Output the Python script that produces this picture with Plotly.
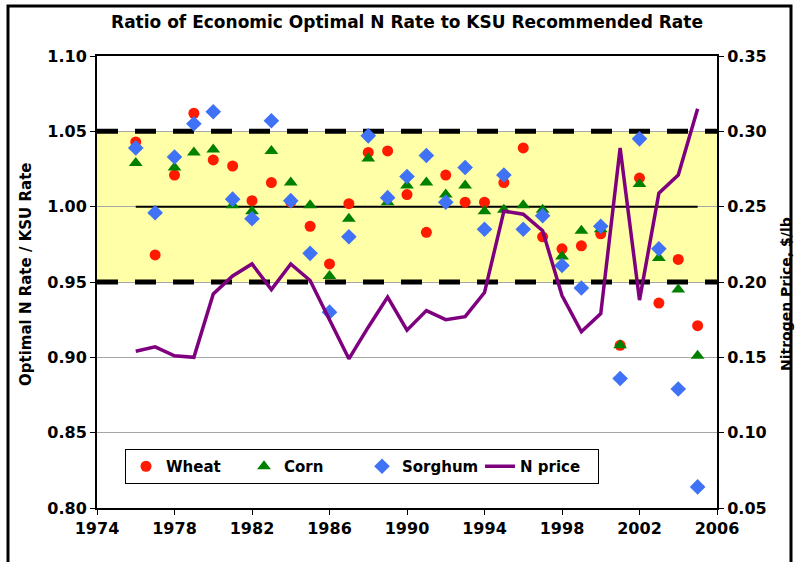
import plotly.graph_objects as go

years = list(range(1976, 2006))

wheat = [1.043, 0.968, 1.021, 1.062, 1.031, 1.027, 1.004, 1.016, 1.003, 0.987,
         0.962, 1.002, 1.036, 1.037, 1.008, 0.983, 1.021, 1.003, 1.003, 1.016,
         1.039, 0.980, 0.972, 0.974, 0.982, 0.908, 1.019, 0.936, 0.965, 0.921]

corn = [1.029, 0.997, 1.026, 1.036, 1.038, 1.001, 0.997, 1.037, 1.016, 1.001,
        0.954, 0.992, 1.032, 1.003, 1.014, 1.016, 1.008, 1.014, 0.997, 0.998,
        1.001, 0.998, 0.967, 0.984, 0.985, 0.908, 1.015, 0.966, 0.945, 0.901]

sorghum = [1.039, 0.996, 1.033, 1.055, 1.063, 1.005, 0.992, 1.057, 1.004, 0.969,
           0.930, 0.980, 1.047, 1.006, 1.020, 1.034, 1.003, 1.026, 0.985, 1.021,
           0.985, 0.994, 0.961, 0.946, 0.987, 0.886, 1.045, 0.972, 0.879, 0.814]

n_price = [0.154, 0.157, 0.151, 0.150, 0.192, 0.204, 0.212, 0.195, 0.212, 0.201,
           0.175, 0.149, 0.170, 0.190, 0.168, 0.181, 0.175, 0.177, 0.193, 0.247,
           0.245, 0.234, 0.191, 0.167, 0.179, 0.289, 0.188, 0.259, 0.271, 0.315]

x_range = [1974, 2006]
band_low, band_high, ref_one = 0.95, 1.05, 1.00

FONT = "DejaVu Sans, Verdana, sans-serif"

fig = go.Figure()

# reference lines
for lvl in (band_high, band_low):
    fig.add_trace(go.Scatter(x=x_range, y=[lvl, lvl], mode="lines",
                             line=dict(color="black", width=5, dash="21px,17px"),
                             showlegend=False, hoverinfo="skip"))
fig.add_trace(go.Scatter(x=[years[0], years[-1]], y=[ref_one, ref_one], mode="lines",
                         line=dict(color="black", width=2),
                         showlegend=False, hoverinfo="skip"))

fig.add_trace(go.Scatter(x=years, y=wheat, mode="markers", name="Wheat",
                         marker=dict(symbol="circle", size=11, color="#FF1A00")))
fig.add_trace(go.Scatter(x=years, y=corn, mode="markers", name="Corn",
                         marker=dict(symbol="triangle-up", size=12, color="#008000")))
fig.add_trace(go.Scatter(x=years, y=sorghum, mode="markers", name="Sorghum",
                         marker=dict(symbol="diamond", size=12, color="#3F72F5")))
fig.add_trace(go.Scatter(x=years, y=n_price, mode="lines", name="N price", yaxis="y2",
                         line=dict(color="#7F007F", width=3.5)))

fig.add_shape(type="rect", xref="x", yref="y", x0=x_range[0], x1=x_range[1],
              y0=band_low, y1=band_high, fillcolor="#FFFFA8", line=dict(width=0),
              layer="below")

# layout geometry (pixels)
L, R, T, B = 97, 717, 56, 508
W, H = 798, 562
def px(x):
    return (x - L) / (R - L)
def py(y):
    return (B - y) / (B - T)

# outer frame
fig.add_shape(type="rect", xref="paper", yref="paper",
              x0=px(8), x1=px(791), y0=py(600), y1=py(6),
              line=dict(color="black", width=3), fillcolor="rgba(0,0,0,0)")

tickfont = dict(family=FONT, size=16, color="black", weight="bold")

fig.update_layout(
    width=W, height=H,
    margin=dict(l=L, r=W - R, t=T, b=H - B, autoexpand=False),
    paper_bgcolor="white", plot_bgcolor="white",
    font=dict(family=FONT, color="black"),
    title=dict(text="Ratio of Economic Optimal N Rate to KSU Recommended Rate",
               x=0.5, xref="paper", y=1 - 22 / H, yref="container", yanchor="middle",
               font=dict(family=FONT, size=17, color="black", weight="bold")),
    xaxis=dict(range=x_range, tick0=1974, dtick=4, showgrid=False, zeroline=False,
               showline=True, linecolor="black", linewidth=2, mirror=True,
               ticks="outside", ticklen=5, tickcolor="black", tickfont=tickfont),
    yaxis=dict(range=[0.80, 1.10], dtick=0.05, tickformat=".2f", showgrid=True,
               gridcolor="#A6A6A6", gridwidth=1, zeroline=False,
               showline=True, linecolor="black", linewidth=2,
               ticks="outside", ticklen=5, tickcolor="black", tickfont=tickfont),
    yaxis2=dict(range=[0.05, 0.35], dtick=0.05, tickformat=".2f", overlaying="y",
                side="right", showgrid=False, zeroline=False,
                showline=True, linecolor="black", linewidth=2,
                ticks="outside", ticklen=5, tickcolor="black", tickfont=tickfont),
    legend=dict(orientation="h", x=px(125), y=py(449), xanchor="left", yanchor="top",
                bgcolor="white", bordercolor="black", borderwidth=1,
                font=dict(family=FONT, size=15, color="black", weight="bold"),
                itemwidth=30, entrywidth=73, entrywidthmode="pixels"),
    annotations=[
        dict(text="Optimal N Rate / KSU Rate", xref="paper", yref="paper",
             x=px(26), y=py(275), textangle=-90, showarrow=False,
             xanchor="center", yanchor="middle",
             font=dict(family=FONT, size=15, color="black", weight="bold")),
        dict(text="Nitrogen Price, $/lb", xref="paper", yref="paper",
             x=px(786), y=py(294), textangle=-90, showarrow=False,
             xanchor="center", yanchor="middle",
             font=dict(family=FONT, size=14, color="black", weight="bold")),
    ],
)

fig.write_html("out.html", config={"displayModeBar": False},
               post_script="document.body.style.margin='0';")
